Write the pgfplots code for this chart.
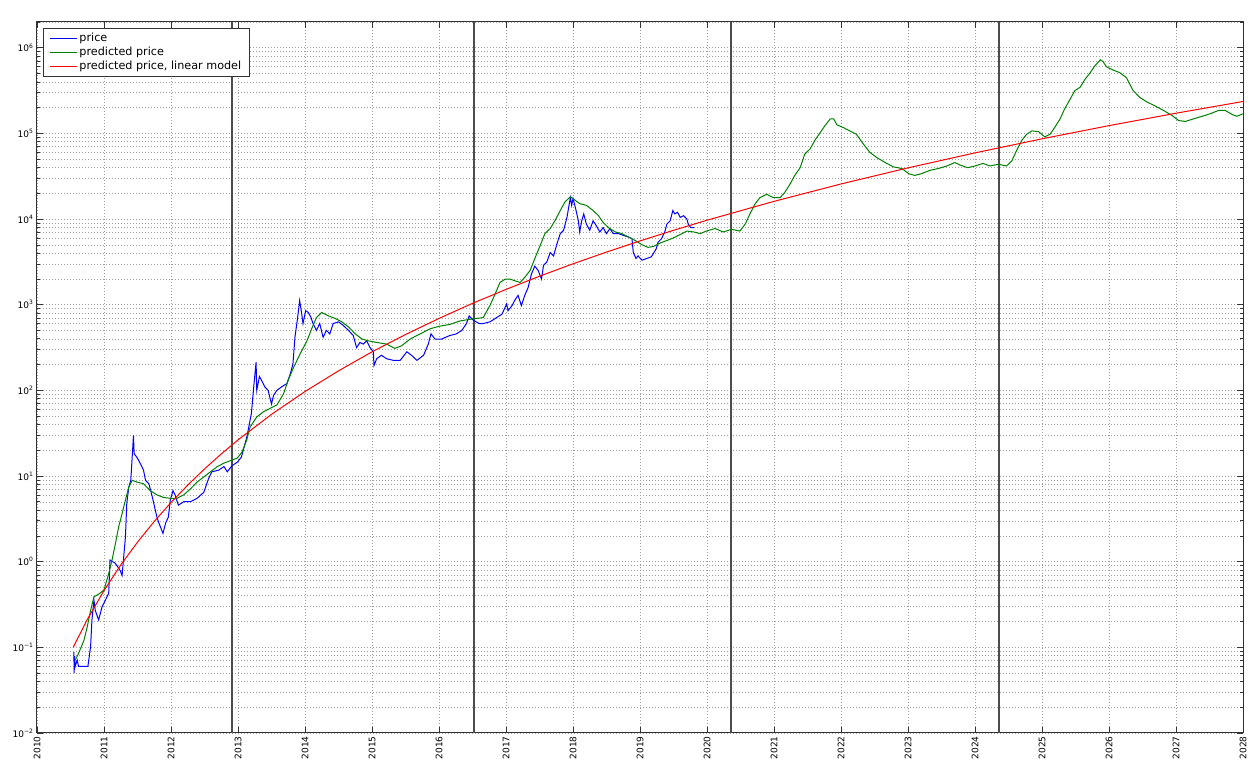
\documentclass[border=0pt]{standalone}
\usepackage{fontspec}
\setmainfont{DejaVu Sans}
\usepackage{pgfplots}
\pgfplotsset{compat=1.18}
\definecolor{mplgreen}{rgb}{0,0.5,0}
\definecolor{halving}{gray}{0.3}
\begin{document}
\begin{tikzpicture}
\useasboundingbox (-37pt,-37pt) rectangle (1216pt,733pt);
\begin{axis}[
  at={(0pt,0pt)}, anchor=south west,
  scale only axis, width=1206pt, height=711pt,
  xmin=2010, xmax=2028, ymin=1e-2, ymax=2e6,
  ymode=log, log basis y=10,
  xtick={2010,2011,2012,2013,2014,2015,2016,2017,2018,2019,2020,2021,2022,2023,2024,2025,2026,2027,2028},
  xticklabels={2010,2011,2012,2013,2014,2015,2016,2017,2018,2019,2020,2021,2022,2023,2024,2025,2026,2027,2028},
  ytick={1e-2,1e-1,1,10,100,1000,1e4,1e5,1e6},
  yticklabels={10\textsuperscript{−2},10\textsuperscript{−1},10\textsuperscript{0},10\textsuperscript{1},10\textsuperscript{2},10\textsuperscript{3},10\textsuperscript{4},10\textsuperscript{5},10\textsuperscript{6}},
  minor ytick={0.02,0.03,0.04,0.05,0.06,0.07,0.08,0.09,
    0.2,0.3,0.4,0.5,0.6,0.7,0.8,0.9,
    2,3,4,5,6,7,8,9,
    20,30,40,50,60,70,80,90,
    200,300,400,500,600,700,800,900,
    2000,3000,4000,5000,6000,7000,8000,9000,
    2e4,3e4,4e4,5e4,6e4,7e4,8e4,9e4,
    2e5,3e5,4e5,5e5,6e5,7e5,8e5,9e5,
    2e6},
  x tick label style={rotate=90, anchor=east, font=\fontsize{9}{10}\selectfont},
  y tick label style={font=\fontsize{9}{10}\selectfont},
  xmajorgrids, ymajorgrids, yminorgrids,
  major grid style={gray!75, line width=0.6pt, dash pattern=on 1pt off 2pt},
  minor grid style={gray!75, line width=0.6pt, dash pattern=on 1pt off 2pt},
  major tick length=6pt, minor tick length=3pt,
  every tick/.style={black!80, line width=0.7pt},
  axis line style={black!80, line width=1pt},
  legend style={at={(0.005,0.992)}, anchor=north west, draw=black!80, line width=0.8pt,
    font=\fontsize{11.2}{15.5}\selectfont, cells={anchor=west}, inner xsep=6pt, inner ysep=3pt,
    row sep=0pt},
  legend image code/.code={\path (-2pt,0pt) -- (25pt,0pt);
    \draw[#1, line width=0.9pt] (0pt,0pt) -- (17pt,0pt);},
]
% halvings
\addplot[halving, line width=1.4pt, forget plot] coordinates {(2012.91,1e-2) (2012.91,2e6)};
\addplot[halving, line width=1.4pt, forget plot] coordinates {(2016.52,1e-2) (2016.52,2e6)};
\addplot[halving, line width=1.4pt, forget plot] coordinates {(2020.36,1e-2) (2020.36,2e6)};
\addplot[halving, line width=1.4pt, forget plot] coordinates {(2024.36,1e-2) (2024.36,2e6)};

% price
\addplot[blue, line width=1pt] coordinates {
(2010.55,0.088) (2010.555,0.050) (2010.56,0.079) (2010.57,0.060) (2010.60,0.071)
(2010.62,0.060) (2010.76,0.060) (2010.80,0.102) (2010.82,0.209) (2010.85,0.355)
(2010.87,0.269) (2010.92,0.209) (2010.97,0.295) (2011.02,0.355) (2011.07,0.427)
(2011.09,1.047) (2011.17,0.955) (2011.24,0.794) (2011.27,0.692) (2011.29,1.047)
(2011.32,1.95) (2011.34,4.79) (2011.37,7.41) (2011.40,8.91) (2011.44,29.9)
(2011.45,18.2) (2011.49,16.6) (2011.54,14.1) (2011.59,11.7) (2011.62,8.91)
(2011.67,8.13) (2011.72,5.75) (2011.79,3.31) (2011.82,2.82) (2011.88,2.14)
(2011.92,2.82) (2011.96,3.31) (2011.99,5.25) (2012.03,6.76) (2012.06,6.03)
(2012.11,4.57) (2012.19,5.01) (2012.29,5.01) (2012.39,5.50) (2012.49,6.46)
(2012.56,9.33) (2012.61,11.2) (2012.71,11.7) (2012.79,12.9) (2012.84,11.2)
(2012.91,13.2) (2012.99,14.5) (2013.05,16.6) (2013.13,28.2) (2013.18,44.7)
(2013.20,53.7) (2013.23,100) (2013.27,214) (2013.28,100) (2013.32,145)
(2013.35,132) (2013.40,110) (2013.45,100) (2013.50,69.2) (2013.53,87.1)
(2013.58,100) (2013.65,110) (2013.73,120) (2013.78,155) (2013.82,204)
(2013.85,417) (2013.89,708) (2013.92,1122) (2013.95,794) (2013.97,603)
(2014.01,851) (2014.05,813) (2014.09,708) (2014.12,603) (2014.17,501)
(2014.22,603) (2014.27,417) (2014.32,501) (2014.37,457) (2014.42,603)
(2014.50,631) (2014.57,575) (2014.65,501) (2014.72,437) (2014.77,316)
(2014.82,363) (2014.87,347) (2014.92,380) (2014.97,316) (2015.02,282)
(2015.03,195) (2015.07,234) (2015.14,257) (2015.22,234) (2015.32,224)
(2015.42,224) (2015.52,282) (2015.59,257) (2015.67,224) (2015.77,257)
(2015.84,347) (2015.88,457) (2015.94,398) (2016.04,398) (2016.16,437)
(2016.26,457) (2016.34,501) (2016.41,603) (2016.45,741) (2016.51,661)
(2016.60,603) (2016.66,603) (2016.76,631) (2016.86,708) (2016.94,776)
(2017.01,1023) (2017.03,851) (2017.09,977) (2017.13,1122) (2017.18,1288)
(2017.23,977) (2017.28,1288) (2017.33,1585) (2017.38,2291) (2017.43,2818)
(2017.48,2512) (2017.53,1995) (2017.56,2884) (2017.61,3162) (2017.66,4074)
(2017.71,3715) (2017.76,5129) (2017.81,6761) (2017.86,7413) (2017.91,10470)
(2017.96,17780) (2017.98,14450) (2018.00,17380) (2018.04,13180) (2018.08,9550)
(2018.10,7079) (2018.13,9550) (2018.16,11480) (2018.20,8710) (2018.25,7413)
(2018.30,9550) (2018.35,8318) (2018.40,7079) (2018.45,7943) (2018.50,6761)
(2018.55,7762) (2018.60,6761) (2018.68,6761) (2018.75,6457) (2018.83,6166)
(2018.88,5888) (2018.90,4074) (2018.94,3467) (2018.97,3715) (2019.03,3311)
(2019.10,3467) (2019.17,3631) (2019.24,4467) (2019.27,5370) (2019.32,5888)
(2019.37,7079) (2019.40,8710) (2019.45,9550) (2019.49,12590) (2019.52,11480)
(2019.56,12020) (2019.60,10470) (2019.65,10960) (2019.70,10000) (2019.72,8710)
(2019.76,7943) (2019.81,7943)
};
\addlegendentry{price}

% predicted price
\addplot[mplgreen, line width=1pt] coordinates {
(2010.57,0.0708) (2010.62,0.0851) (2010.70,0.120) (2010.75,0.174) (2010.80,0.269)
(2010.85,0.389) (2010.92,0.417) (2011.00,0.468) (2011.07,0.724) (2011.12,1.047)
(2011.17,1.622) (2011.22,2.570) (2011.27,3.631) (2011.32,5.248) (2011.37,7.413)
(2011.42,8.913) (2011.49,8.511) (2011.59,8.128) (2011.69,6.761) (2011.79,6.026)
(2011.89,5.623) (2011.99,5.495) (2012.09,5.495) (2012.19,6.026) (2012.29,7.079)
(2012.39,8.511) (2012.49,9.772) (2012.59,11.22) (2012.69,12.88) (2012.79,14.13)
(2012.89,15.14) (2012.99,16.22) (2013.06,19.05) (2013.13,26.3) (2013.18,37.2)
(2013.28,49.0) (2013.38,56.2) (2013.48,61.7) (2013.58,67.6) (2013.68,91.2)
(2013.75,132) (2013.83,186) (2013.93,269) (2014.03,380) (2014.10,525)
(2014.17,708) (2014.25,813) (2014.35,741) (2014.45,692) (2014.55,631)
(2014.65,550) (2014.75,457) (2014.85,398) (2014.94,380) (2015.07,363)
(2015.22,347) (2015.34,309) (2015.44,331) (2015.57,398) (2015.72,457)
(2015.87,525) (2016.01,562) (2016.16,589) (2016.31,646) (2016.46,676)
(2016.56,692) (2016.66,708) (2016.76,977) (2016.84,1349) (2016.91,1820)
(2016.99,1995) (2017.06,1995) (2017.13,1905) (2017.21,1820) (2017.28,2089)
(2017.36,2512) (2017.43,3467) (2017.51,4898) (2017.58,6761) (2017.66,7762)
(2017.73,9550) (2017.81,12590) (2017.88,15850) (2017.96,18200) (2018.03,16600)
(2018.10,15140) (2018.20,14450) (2018.30,12590) (2018.38,10960) (2018.45,9120)
(2018.53,7943) (2018.63,7079) (2018.73,6761) (2018.83,6166) (2018.93,5623)
(2019.03,5012) (2019.12,4677) (2019.20,4786) (2019.30,5248) (2019.40,5623)
(2019.50,6026) (2019.60,6607) (2019.70,7244) (2019.80,7079) (2019.90,6761)
(2019.99,7244) (2020.12,7762) (2020.24,7079) (2020.37,7586) (2020.49,7244)
(2020.57,8710) (2020.64,11480) (2020.72,15140) (2020.79,17780) (2020.89,19500)
(2020.99,17780) (2021.09,17780) (2021.16,20420) (2021.24,25700) (2021.31,32360)
(2021.39,39810) (2021.46,57540) (2021.54,66070) (2021.61,83180) (2021.69,102300)
(2021.76,123000) (2021.84,147900) (2021.89,147900) (2021.94,125900) (2022.03,117500)
(2022.13,107200) (2022.23,97720) (2022.33,75860) (2022.43,60260) (2022.53,52480)
(2022.66,45710) (2022.78,40740) (2022.91,38900) (2023.01,33880) (2023.10,32360)
(2023.20,33880) (2023.33,37150) (2023.45,38900) (2023.58,41690) (2023.70,45710)
(2023.78,42660) (2023.89,39810) (2024.00,41690) (2024.12,44670) (2024.22,41690)
(2024.35,43650) (2024.47,41690) (2024.55,47860) (2024.62,63100) (2024.70,83180)
(2024.77,97720) (2024.85,107200) (2024.95,104700) (2025.04,91200) (2025.12,97720)
(2025.19,117500) (2025.27,147900) (2025.34,195000) (2025.42,251200) (2025.49,316200)
(2025.57,346700) (2025.64,426600) (2025.72,512900) (2025.79,616600) (2025.87,724400)
(2025.91,691800) (2025.96,602600) (2026.06,549500) (2026.16,512900) (2026.26,446700)
(2026.36,316200) (2026.46,263000) (2026.56,234400) (2026.69,208900) (2026.81,186200)
(2026.94,162200) (2027.04,141300) (2027.14,138000) (2027.26,147900) (2027.39,158500)
(2027.51,169800) (2027.64,186200) (2027.73,186200) (2027.84,166000) (2027.91,158500)
(2028.00,169800)
};
\addlegendentry{predicted price}

% predicted price, linear model
\addplot[red, line width=1pt] coordinates {
(2010.54,0.100) (2010.75,0.211) (2011.00,0.460) (2011.25,0.916) (2011.50,1.69)
(2011.75,2.95) (2012.00,4.91) (2012.25,7.84) (2012.50,12.1) (2012.75,18.1)
(2013.00,26.4) (2013.50,52.5) (2014.00,97.0) (2014.50,169) (2015.00,282)
(2015.50,449) (2016.00,692) (2016.50,1038) (2017.00,1510) (2017.50,2153)
(2018.00,3006) (2018.50,4121) (2019.00,5559) (2019.50,7396) (2020.00,9705)
(2021.00,16106) (2022.00,25704) (2023.00,39628) (2024.00,59293) (2025.00,86497)
(2026.00,123310) (2027.00,172190) (2028.00,236050)
};
\addlegendentry{predicted price, linear model}
\end{axis}
\end{tikzpicture}
\end{document}
